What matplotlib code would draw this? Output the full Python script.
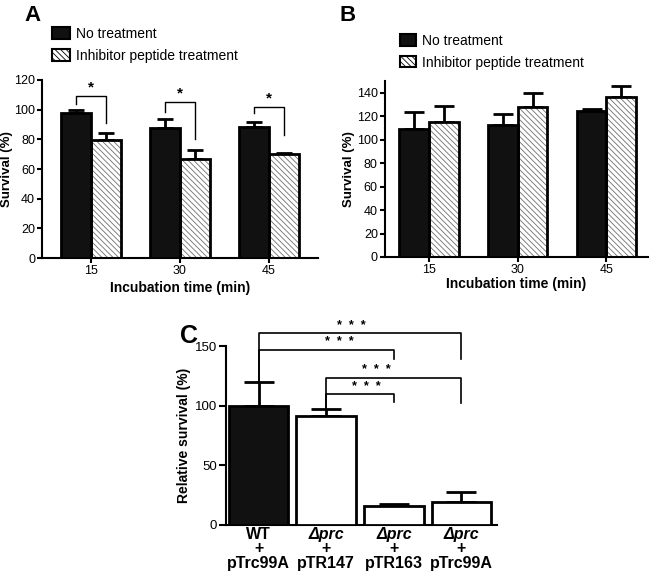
import matplotlib

matplotlib.use("Agg")

import matplotlib.pyplot as plt
import numpy as np
from matplotlib.patches import Patch

plt.rcParams.update({
    "font.family": ["Liberation Sans", "DejaVu Sans"],
    "font.size": 10,
    "axes.linewidth": 1.5,
    "xtick.major.width": 1.5,
    "ytick.major.width": 1.5,
    "xtick.major.size": 3.5,
    "ytick.major.size": 3.5,
    "xtick.major.pad": 1.5,
    "ytick.major.pad": 1.5,
    "hatch.linewidth": 0.6,
})

# --- data ------------------------------------------------------------------

times = ["15", "30", "45"]
series = ["No treatment", "Inhibitor peptide treatment"]

a_none = [97.5, 87.5, 88.5]
a_none_err = [2.3, 6.5, 3.4]
a_inh = [79.5, 67.0, 70.0]
a_inh_err = [5.0, 6.0, 1.1]
# significance brackets A: bracket height, left leg end, right leg end
a_brk_top = [109, 105, 102]
a_brk_left = [104, 98.5, 97.5]
a_brk_right = [91, 80.5, 83]

b_none = [109.5, 112.5, 124.5]
b_none_err = [14.0, 9.0, 1.3]
b_inh = [115.5, 127.5, 136.5]
b_inh_err = [13.0, 12.5, 9.0]

c_strain = ["WT", "\u0394prc", "\u0394prc", "\u0394prc"]
c_plasmid = ["pTrc99A", "pTR147", "pTR163", "pTrc99A"]
c_vals = [100.0, 91.5, 15.5, 19.0]
c_err = [20.0, 6.0, 2.0, 9.0]
# brackets C: from bar, to bar, height, left leg end, right leg end, star x
c_brk_from = [0, 0, 1, 1]
c_brk_to = [3, 2, 3, 2]
c_brk_top = [161, 147, 123.5, 109.5]
c_brk_left = [120, 120, 97.5, 97.5]
c_brk_right = [139, 139, 102, 103]
c_star_x = [1.37, 1.19, 1.74, 1.59]

HATCH_GRAY = "#6f6f6f"


def style(ax):
    for s in ("top", "right"):
        ax.spines[s].set_visible(False)
    ax.tick_params(labelsize=9)


def hatched_bars(ax, x, h, w):
    ax.bar(x, h, w, color="white", edgecolor=HATCH_GRAY, hatch="\\\\\\\\\\\\",
           linewidth=0, zorder=2)
    ax.bar(x, h, w, color="none", edgecolor="black", linewidth=2, zorder=3)


def two_series(ax, none, none_err, inh, inh_err, capsize):
    x = np.arange(len(times))
    w = 0.335
    ax.errorbar(x - w / 2, none, yerr=[np.zeros(3), none_err], fmt="none",
                ecolor="black", elinewidth=2, capsize=capsize, capthick=2,
                zorder=1)
    ax.errorbar(x + w / 2, inh, yerr=[np.zeros(3), inh_err], fmt="none",
                ecolor="black", elinewidth=2, capsize=capsize, capthick=2,
                zorder=1)
    ax.bar(x - w / 2, none, w, color="#111111", edgecolor="black",
           linewidth=2, zorder=3)
    hatched_bars(ax, x + w / 2, inh, w)
    ax.set_xticks(x)
    ax.set_xticklabels(times)
    return x, w


def legend(ax, anchor, size=1.0, spacing=0.6):
    handles = [Patch(facecolor="#111111", edgecolor="black", linewidth=1.5),
               Patch(facecolor="white", edgecolor="black", linewidth=1.5,
                     hatch="\\\\\\\\\\\\")]
    ax.legend(handles, series, loc="upper left", bbox_to_anchor=anchor,
              frameon=False, fontsize=10, handlelength=1.35 * size,
              handleheight=1.0 * size, handletextpad=0.4,
              labelspacing=spacing, borderaxespad=0)


fig = plt.figure(figsize=(6.5, 5.71), dpi=100)

# --- panel A ---------------------------------------------------------------
axA = fig.add_axes([0.0646, 0.548, 0.4246, 0.312])
style(axA)
x, w = two_series(axA, a_none, a_none_err, a_inh, a_inh_err, capsize=6)
for i in range(3):
    xl, xr = x[i] - w / 2, x[i] + w / 2
    axA.plot([xl, xl, xr, xr],
             [a_brk_left[i], a_brk_top[i], a_brk_top[i], a_brk_right[i]],
             color="black", lw=1, zorder=4)
    axA.text(x[i], a_brk_top[i] + 1, "*", ha="center", va="bottom",
             fontsize=11, fontweight="bold")
axA.set_xlim(-0.55, 2.55)
axA.set_ylim(0, 120)
axA.set_yticks(np.arange(0, 121, 20))
axA.set_ylabel("Survival (%)", fontweight="bold", fontsize=9.5, labelpad=1)
axA.set_xlabel("Incubation time (min)", fontweight="bold", fontsize=10,
               labelpad=2.5)
legend(axA, (0.015, 1.33))
fig.text(0.038, 0.992, "A", fontsize=16, fontweight="bold", va="top")

# --- panel B ---------------------------------------------------------------
axB = fig.add_axes([0.592, 0.550, 0.405, 0.308])
style(axB)
two_series(axB, b_none, b_none_err, b_inh, b_inh_err, capsize=7.5)
axB.set_xlim(-0.5, 2.47)
axB.set_ylim(0, 150)
axB.set_yticks(np.arange(0, 141, 20))
axB.set_ylabel("Survival (%)", fontweight="bold", fontsize=9.5, labelpad=1)
axB.set_xlabel("Incubation time (min)", fontweight="bold", fontsize=10,
               labelpad=1)
legend(axB, (0.035, 1.30), size=0.9, spacing=0.55)
fig.text(0.523, 0.992, "B", fontsize=16, fontweight="bold", va="top")

# --- panel C ---------------------------------------------------------------
axC = fig.add_axes([0.348, 0.0806, 0.417, 0.3134])
style(axC)
axC.tick_params(axis="y", length=5, labelsize=9.5)
xc = np.arange(len(c_vals))
wc = 0.88
axC.errorbar(xc, c_vals, yerr=[np.zeros(4), c_err], fmt="none",
             ecolor="black", elinewidth=2, capsize=11, capthick=2, zorder=1)
axC.bar(xc, c_vals, wc, color=["#111111", "white", "white", "white"],
        edgecolor="black", linewidth=2, zorder=3)
for a, b, top, l, r, sx in zip(c_brk_from, c_brk_to, c_brk_top, c_brk_left,
                               c_brk_right, c_star_x):
    axC.plot([a, a, b, b], [l, top, top, r], color="black", lw=1.2,
             zorder=4, clip_on=False)
    axC.text(sx, top + 1, "*  *  *", ha="center", va="bottom",
             fontsize=9, fontweight="bold", clip_on=False)
axC.set_xlim(-0.48, 3.53)
axC.set_ylim(0, 150)
axC.set_yticks([0, 50, 100, 150])
axC.set_xticks(xc)
axC.set_xticklabels([])
axC.tick_params(axis="x", length=0)
for i in range(len(c_vals)):
    kw = dict(xycoords=("data", "axes fraction"), textcoords="offset points",
              ha="center", fontsize=11.5, fontweight="bold",
              annotation_clip=False)
    axC.annotate(c_strain[i], (xc[i], 0), xytext=(0, -10), va="baseline",
                 fontstyle="normal" if i == 0 else "italic", **kw)
    axC.annotate("+", (xc[i], 0), xytext=(0, -17), va="center", **kw)
    axC.annotate(c_plasmid[i], (xc[i], 0), xytext=(0, -31), va="baseline",
                 **kw)
axC.set_ylabel("Relative survival (%)", fontweight="bold", fontsize=10,
               labelpad=3)
fig.text(0.277, 0.432, "C", fontsize=18, fontweight="bold", va="top")

fig.savefig("out.png", dpi=100, facecolor="white")
